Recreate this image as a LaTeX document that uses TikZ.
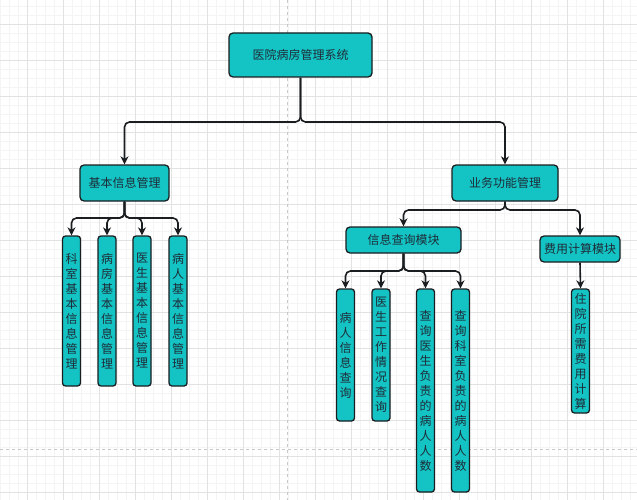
\documentclass[tikz,border=0pt]{standalone}
\usepackage{fontspec}
\usepackage{xcolor}
\usepackage{tikz}
\usetikzlibrary{arrows.meta}
\newfontfamily\cjk{Noto Sans CJK SC}
\definecolor{boxfill}{RGB}{20,196,196}
\definecolor{boxline}{RGB}{26,30,32}
\definecolor{boxtext}{RGB}{30,44,56}
\definecolor{gridminor}{RGB}{244,244,244}
\definecolor{gridmajor}{RGB}{226,226,226}
\definecolor{pageline}{RGB}{200,200,200}

\begin{document}
\begin{tikzpicture}[x=1pt,y=-1pt,
        module/.style={draw=boxline,fill=boxfill,line width=1.3pt,rounded corners=4pt,
            inner sep=0pt,text=boxtext,font=\cjk\fontsize{12}{15}\selectfont},
        vbox/.style={module,rounded corners=3pt,minimum width=18pt,align=center},
        conn/.style={draw=boxline,line width=1.6pt,rounded corners=5pt,
            -{Stealth[length=8pt,width=8pt,inset=2.5pt]}}]
        \useasboundingbox (0,0) rectangle (637,500);
        \fill[white] (0,0) rectangle (637,500);
        \foreach \x in {0,9,...,636} \draw[gridminor,line width=0.6pt] (\x,0) -- (\x,500);
        \foreach \y in {6,15,...,500} \draw[gridminor,line width=0.6pt] (0,\y) -- (637,\y);
        \foreach \x in {27,63,...,636} \draw[gridmajor,line width=0.8pt] (\x,0) -- (\x,500);
        \foreach \y in {24,60,...,500} \draw[gridmajor,line width=0.8pt] (0,\y) -- (637,\y);
        \draw[pageline,dashed,line width=0.8pt] (287,0) -- (287,500);
        \draw[pageline,dashed,line width=0.8pt] (0,449) -- (637,449);

        \node[module,minimum width=143pt,minimum height=44pt] (sys) at (300.5,55) {医院病房管理系统};
        \node[module,minimum width=89pt,minimum height=36pt] (basic) at (124.5,183) {基本信息管理};
        \node[module,minimum width=106pt,minimum height=36pt] (biz) at (505,183) {业务功能管理};
        \node[module,minimum width=115pt,minimum height=26pt] (query) at (403.5,240) {信息查询模块};
        \node[module,minimum width=80pt,minimum height=26pt] (fee) at (580,249) {费用计算模块};

        \node[vbox,minimum height=150pt] (dept) at (71.5,311) {科\\室\\基\\本\\信\\息\\管\\理};
        \node[vbox,minimum height=150pt] (ward) at (107,311) {病\\房\\基\\本\\信\\息\\管\\理};
        \node[vbox,minimum height=150pt] (doctor) at (142,311) {医\\生\\基\\本\\信\\息\\管\\理};
        \node[vbox,minimum height=150pt] (patient) at (178,311) {病\\人\\基\\本\\信\\息\\管\\理};

        \node[vbox,minimum height=132pt] (qpatient) at (345.5,355) {病\\人\\信\\息\\查\\询};
        \node[vbox,minimum height=132pt] (qwork) at (381,355) {医\\生\\工\\作\\情\\况\\查\\询};
        \node[vbox,minimum height=203pt] (qdoccount) at (425.5,390.5) {查\\询\\医\\生\\负\\责\\的\\病\\人\\人\\数};
        \node[vbox,minimum height=203pt] (qdeptcount) at (460.5,390.5) {查\\询\\科\\室\\负\\责\\的\\病\\人\\人\\数};

        \node[vbox,minimum height=124pt] (cost) at (580.5,351) {住\\院\\所\\需\\费\\用\\计\\算};

        \draw[conn] (sys.south) -- (sys.south |- 0,122) -| (basic.north);
        \draw[conn] (sys.south) -- (sys.south |- 0,122) -| (biz.north);

        \foreach \c in {dept,ward,doctor,patient}
            \draw[conn] (basic.south) -- (basic.south |- 0,218) -| (\c.north);

        \draw[conn] (biz.south) -- (biz.south |- 0,210) -| (query.north);
        \draw[conn] (biz.south) -- (biz.south |- 0,210) -| (fee.north);

        \foreach \c in {qpatient,qwork,qdoccount,qdeptcount}
            \draw[conn] (query.south) -- (query.south |- 0,271) -| (\c.north);

        \draw[conn] (fee.south) -- (cost.north);
    \end{tikzpicture}
\end{document}
